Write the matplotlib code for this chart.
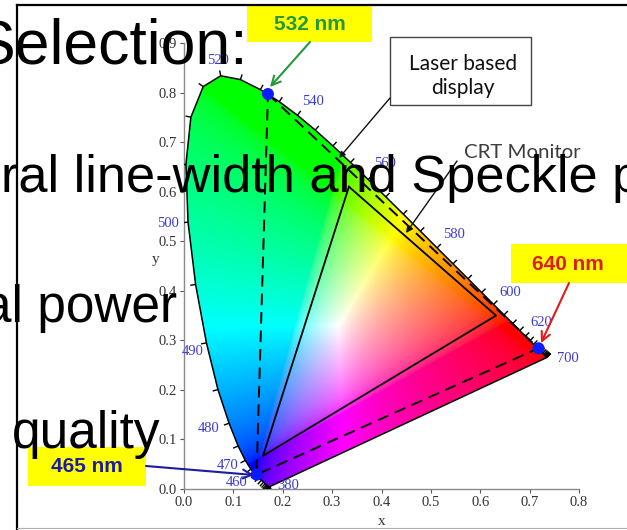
import numpy as np
import matplotlib
matplotlib.use("Agg")
import matplotlib.pyplot as plt
from matplotlib.patches import Polygon, Rectangle
from matplotlib.collections import LineCollection

# CIE 1931 2-degree spectral locus, 5 nm steps
locus_nm = [380, 385, 390, 395, 400, 405, 410, 415, 420, 425, 430, 435, 440, 445,
            450, 455, 460, 465, 470, 475, 480, 485, 490, 495, 500, 505, 510, 515,
            520, 525, 530, 535, 540, 545, 550, 555, 560, 565, 570, 575, 580, 585,
            590, 595, 600, 605, 610, 615, 620, 625, 630, 635, 640, 645, 650, 655,
            660, 665, 670, 675, 680, 685, 690, 695, 700]
locus_x = [0.1741, 0.1740, 0.1738, 0.1736, 0.1733, 0.1730, 0.1726, 0.1721, 0.1714,
           0.1703, 0.1689, 0.1669, 0.1644, 0.1611, 0.1566, 0.1510, 0.1440, 0.1355,
           0.1241, 0.1096, 0.0913, 0.0687, 0.0454, 0.0235, 0.0082, 0.0039, 0.0139,
           0.0389, 0.0743, 0.1142, 0.1547, 0.1929, 0.2296, 0.2658, 0.3016, 0.3373,
           0.3731, 0.4087, 0.4441, 0.4788, 0.5125, 0.5448, 0.5752, 0.6029, 0.6270,
           0.6482, 0.6658, 0.6801, 0.6915, 0.7006, 0.7079, 0.7140, 0.7190, 0.7230,
           0.7260, 0.7283, 0.7300, 0.7311, 0.7320, 0.7327, 0.7334, 0.7340, 0.7344,
           0.7346, 0.7347]
locus_y = [0.0050, 0.0050, 0.0049, 0.0049, 0.0048, 0.0048, 0.0048, 0.0048, 0.0051,
           0.0058, 0.0069, 0.0086, 0.0109, 0.0138, 0.0177, 0.0227, 0.0297, 0.0399,
           0.0578, 0.0868, 0.1327, 0.2007, 0.2950, 0.4127, 0.5384, 0.6548, 0.7502,
           0.8120, 0.8338, 0.8262, 0.8059, 0.7816, 0.7543, 0.7243, 0.6923, 0.6589,
           0.6245, 0.5896, 0.5547, 0.5202, 0.4866, 0.4544, 0.4242, 0.3965, 0.3725,
           0.3514, 0.3340, 0.3197, 0.3083, 0.2993, 0.2920, 0.2859, 0.2809, 0.2770,
           0.2740, 0.2717, 0.2700, 0.2689, 0.2680, 0.2673, 0.2666, 0.2660, 0.2656,
           0.2654, 0.2653]

# Laser primaries (dashed gamut) and CRT phosphors (solid gamut)
laser_nm = [532, 640, 465]
laser_x = [0.170, 0.718, 0.147]
laser_y = [0.797, 0.284, 0.029]
crt_x = [0.334, 0.632, 0.160]
crt_y = [0.610, 0.350, 0.067]

labelled_nm = [380, 460, 470, 480, 490, 500, 520, 540, 560, 580, 600, 620, 700]
x_ticks = [0.0, 0.1, 0.2, 0.3, 0.4, 0.5, 0.6, 0.7, 0.8]
y_ticks = [0.0, 0.1, 0.2, 0.3, 0.4, 0.5, 0.6, 0.7, 0.8, 0.9]
slide_lines = ["Selection:", "ral line-width and Speckle p", "al power", "quality"]

W, H = 627, 530
fig = plt.figure(figsize=(W / 100, H / 100), dpi=100)
fig.patch.set_facecolor("white")

ax = fig.add_axes([184 / W, 41 / H, 395 / W, 446 / H])
ax.set_xlim(0, 0.8)
ax.set_ylim(0, 0.9)
ax.set_facecolor("none")

# chromaticity colour field
gx = np.linspace(0, 0.8, 640)
gy = np.linspace(0.0005, 0.9, 720)
GX, GY = np.meshgrid(gx, gy)
XYZ = np.stack([GX / GY, np.ones_like(GX), (1 - GX - GY) / GY])
M = np.array([[3.2406, -1.5372, -0.4986],
              [-0.9689, 1.8758, 0.0415],
              [0.0557, -0.2040, 1.0570]])
rgb = np.tensordot(M, XYZ, axes=1)
rgb = np.clip(rgb, 0, None)
rgb = rgb / np.maximum(rgb.max(axis=0, keepdims=True), 1e-9)
rgb = np.clip(rgb, 0, 1) ** (1 / 2.2)
rgb = np.transpose(rgb, (1, 2, 0))

pts = np.column_stack([locus_x, locus_y])
clip_poly = Polygon(pts, closed=True, facecolor="none", edgecolor="none",
                    transform=ax.transData)
ax.add_patch(clip_poly)
im = ax.imshow(rgb, extent=(0, 0.8, 0, 0.9), origin="lower", aspect="auto",
               interpolation="bilinear", zorder=1)
im.set_clip_path(clip_poly)

ax.add_patch(Polygon(pts, closed=True, fill=False, edgecolor="black", lw=1.1,
                     zorder=3))

# wavelength tick marks along the locus, pointing outward
segs = []
for i in range(len(pts)):
    a = pts[max(i - 1, 0)]
    b = pts[min(i + 1, len(pts) - 1)]
    t = b - a
    t = t / np.hypot(*t)
    n = np.array([-t[1], t[0]])
    segs.append([pts[i], pts[i] + 0.011 * n])
ax.add_collection(LineCollection(segs, colors="black", linewidths=1.0, zorder=3))

label_offsets = {380: (18, 1), 460: (-18, -8), 470: (-18, -5), 480: (-20, -5),
                 490: (-14, -9), 500: (-20, -1), 520: (-3, 15), 540: (16, 14),
                 560: (17, 16), 580: (17, 13), 600: (17, 12), 620: (16, 14),
                 700: (21, -1)}
for nm in labelled_nm:
    i = locus_nm.index(nm)
    ax.annotate(str(nm), (locus_x[i], locus_y[i]), xytext=label_offsets[nm],
                textcoords="offset pixels", ha="center", va="center",
                color="#3b3bd6", fontsize=10.5, family="Liberation Serif",
                annotation_clip=False, zorder=4)

# CRT gamut
ax.plot(crt_x + crt_x[:1], crt_y + crt_y[:1], color="black", lw=1.3, zorder=4)
# laser gamut
ax.plot(laser_x + laser_x[:1], laser_y + laser_y[:1], color="black", lw=1.4,
        linestyle=(0, (6, 3.5)), zorder=4)
ax.scatter(laser_x, laser_y, s=75, color="#0a1cff", zorder=6, edgecolors="none")

for side in ["top", "right"]:
    ax.spines[side].set_visible(False)
for side in ["left", "bottom"]:
    ax.spines[side].set_color("#8a8a8a")
    ax.spines[side].set_linewidth(1.0)
ax.set_xticks(x_ticks)
ax.set_yticks(y_ticks)
ax.set_xticklabels([f"{v:.1f}" for v in x_ticks])
ax.set_yticklabels([f"{v:.1f}" for v in y_ticks])
ax.tick_params(direction="out", length=3, width=0.8, color="#555555",
               labelsize=10.5, labelcolor="#333333", pad=2)
for lbl in ax.get_xticklabels() + ax.get_yticklabels():
    lbl.set_family("Liberation Serif")
ax.set_xlabel("x", family="Liberation Serif", fontsize=11, color="#333333")
ax.set_ylabel("y", family="Liberation Serif", fontsize=11, color="#333333",
              rotation=0)
ax.xaxis.set_label_coords(0.5, -0.058)
ax.yaxis.set_label_coords(-0.073, 0.50)

# slide layer in pixel coordinates
ov = fig.add_axes([0, 0, 1, 1], zorder=5)
ov.set_xlim(0, W)
ov.set_ylim(H, 0)
ov.axis("off")
ov.patch.set_alpha(0)

ov.plot([17, 17], [5, H], color="black", lw=1.6)
ov.plot([17, W], [5, 5], color="black", lw=1.6)
ov.plot([17, W], [528, 528], color="#b0b0b0", lw=0.8)

ov.add_patch(Rectangle((390, 37), 141, 68, facecolor="white", edgecolor="#444444",
                       lw=1.0))
ov.text(463, 64, "Laser based", ha="center", va="center", family="Lato",
        fontsize=15, color="#111111")
ov.text(463, 88, "display", ha="center", va="center", family="Lato",
        fontsize=15, color="#111111")
ov.annotate("", xy=(339, 158), xytext=(390, 98),
            arrowprops=dict(arrowstyle="-|>", color="#111111", lw=1.0,
                            mutation_scale=9, shrinkA=0, shrinkB=0))

ov.text(522, 152, "CRT Monitor", ha="center", va="center", family="Lato",
        fontsize=14.7, color="#3c3c3c")
ov.annotate("", xy=(406, 233), xytext=(457, 161),
            arrowprops=dict(arrowstyle="-|>", color="#111111", lw=1.0,
                            mutation_scale=10, shrinkA=0, shrinkB=0))

# wavelength call-outs
callouts = [("532 nm", (247, 6, 125, 36), (310, 24), "#22993a", (310, 42), (270, 87)),
            ("640 nm", (511, 244, 116, 39), (568, 265), "#e01b1b", (569, 283), (541, 343)),
            ("465 nm", (28, 447, 118, 39), (87, 467), "#1c1ca0", (146, 466), (254, 475))]
for text, (bx, by, bw, bh), (tx, ty), col, p0, p1 in callouts:
    ov.add_patch(Rectangle((bx, by), bw, bh, facecolor="#ffff00", edgecolor="none"))
    ov.text(tx, ty, text, ha="center", va="center", family="Liberation Sans",
            fontweight="bold", fontsize=15, color=col)
    ov.annotate("", xy=p1, xytext=p0,
                arrowprops=dict(arrowstyle="->", color=col, lw=1.5,
                                mutation_scale=16, shrinkA=0, shrinkB=0))

# slide text over the figure
ov.text(248, 63, slide_lines[0], ha="right", va="baseline", family="Liberation Sans",
        fontsize=45, color="black")
ov.text(1, 192, slide_lines[1], ha="left", va="baseline", family="Liberation Sans",
        fontsize=37.7, color="black")
ov.text(177, 322, slide_lines[2], ha="right", va="baseline", family="Liberation Sans",
        fontsize=37, color="black")
ov.text(161, 448, slide_lines[3], ha="right", va="baseline", family="Liberation Sans",
        fontsize=37, color="black")

fig.savefig("out.png", dpi=100, facecolor="white")
